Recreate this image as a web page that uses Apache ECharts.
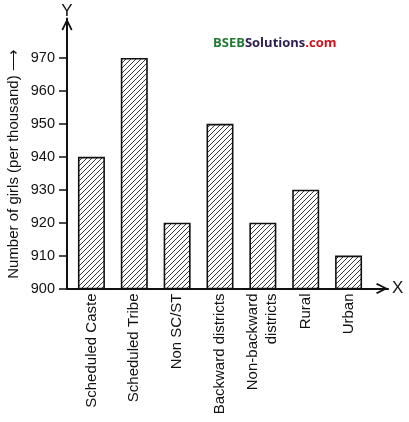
<!DOCTYPE html>
<html>
<head>
<meta charset="utf-8">
<script src="https://cdn.jsdelivr.net/npm/echarts@6/dist/echarts.min.js"></script>
<style>
    html, body { margin: 0; padding: 0; background: #fff; }
    #main { width: 409px; height: 422px; }
</style>
</head>
<body>
<div id="main"></div>
<script>
// 类别
var categories = ['Scheduled Caste', 'Scheduled Tribe', 'Non SC/ST', 'Backward districts', 'Non-backward\ndistricts', 'Rural', 'Urban'];
// 每千名男孩对应的女孩数
var girlsPerThousand = [940, 970, 920, 950, 920, 930, 910];
// 纵轴刻度
var yTicks = [900, 910, 920, 930, 940, 950, 960, 970];

var font = 'Liberation Sans, Arial, sans-serif';
var ink = '#111';

// 斜线填充
var hatch = document.createElement('canvas');
hatch.width = 5;
hatch.height = 5;
var hc = hatch.getContext('2d');
hc.fillStyle = '#fff';
hc.fillRect(0, 0, 5, 5);
hc.strokeStyle = '#222';
hc.lineWidth = 0.9;
hc.beginPath();
hc.moveTo(-1, 6); hc.lineTo(6, -1);
hc.moveTo(-1, 1); hc.lineTo(1, -1);
hc.moveTo(4, 6); hc.lineTo(6, 4);
hc.stroke();

// 箭头(开口)
var chevron = 'path://M0,10 L5,0 L10,10 L8.6,11 L5,3.5 L1.4,11 Z';

var myChart = echarts.init(document.getElementById('main'));
var option = {
    backgroundColor: '#fff',
    animation: false,
    grid: [
        {left: 70, right: 39, top: 18.5, bottom: 133.5},
        {left: 67, right: 21, top: 18.5, bottom: 133.5}
    ],
    xAxis: [
        {
            gridIndex: 0,
            type: 'category',
            data: categories,
            axisLine: {show: false},
            axisTick: {show: false},
            axisLabel: {
                rotate: 90,
                margin: 5,
                interval: 0,
                fontFamily: font,
                fontSize: 15,
                lineHeight: 19,
                color: ink
            }
        },
        {
            gridIndex: 1,
            type: 'value',
            min: 0,
            max: 1,
            axisLine: {
                onZero: false,
                lineStyle: {color: ink, width: 2},
                symbol: ['none', chevron],
                symbolSize: [11, 12],
                symbolOffset: [0, -6]
            },
            axisTick: {show: false},
            axisLabel: {show: false},
            splitLine: {show: false},
            name: 'X',
            nameLocation: 'end',
            nameGap: 4,
            nameTextStyle: {fontFamily: font, fontSize: 17, color: ink}
        }
    ],
    yAxis: [
        {
            gridIndex: 0,
            type: 'value',
            min: 900,
            max: 982,
            show: false
        },
        {
            gridIndex: 1,
            type: 'value',
            min: 900,
            max: 982,
            interval: 10,
            axisLine: {
                show: true,
                onZero: false,
                lineStyle: {color: ink, width: 2},
                symbol: ['none', chevron],
                symbolSize: [11, 12],
                symbolOffset: [0, -6]
            },
            axisTick: {show: true, length: 8, customValues: yTicks, lineStyle: {color: ink, width: 1.5}},
            axisLabel: {
                customValues: yTicks,
                margin: 12,
                fontFamily: font,
                fontSize: 14.5,
                color: ink
            },
            splitLine: {show: false},
            name: 'Y',
            nameLocation: 'end',
            nameGap: -1,
            nameTextStyle: {fontFamily: font, fontSize: 17, color: ink}
        }
    ],
    graphic: [
        {
            type: 'text',
            x: 14,
            y: 164,
            rotation: Math.PI / 2,
            style: {
                text: 'Number of girls (per thousand) \u27f6',
                fontFamily: font,
                fontSize: 15,
                fill: ink,
                textAlign: 'center',
                textVerticalAlign: 'middle'
            }
        },
        {
            type: 'text',
            x: 213,
            y: 43,
            style: {
                text: '{g|BSEB}{p|Solutions}{r|.com}',
                textVerticalAlign: 'middle',
                rich: {
                    g: {fontFamily: 'Open Sans', fontWeight: 'bold', fontSize: 13, fill: '#1f7a33', color: '#1f7a33'},
                    p: {fontFamily: 'Open Sans', fontWeight: 'bold', fontSize: 13, fill: '#2c1c4f', color: '#2c1c4f'},
                    r: {fontFamily: 'Open Sans', fontWeight: 'bold', fontSize: 13, fill: '#d0121c', color: '#d0121c'}
                }
            }
        }
    ],
    series: [
        {
            type: 'bar',
            xAxisIndex: 0,
            yAxisIndex: 0,
            barWidth: 27,
            data: girlsPerThousand,
            itemStyle: {
                color: {image: hatch, repeat: 'repeat'},
                borderColor: ink,
                borderWidth: 1.6
            }
        }
    ]
};
myChart.setOption(option);
</script>
</body>
</html>
